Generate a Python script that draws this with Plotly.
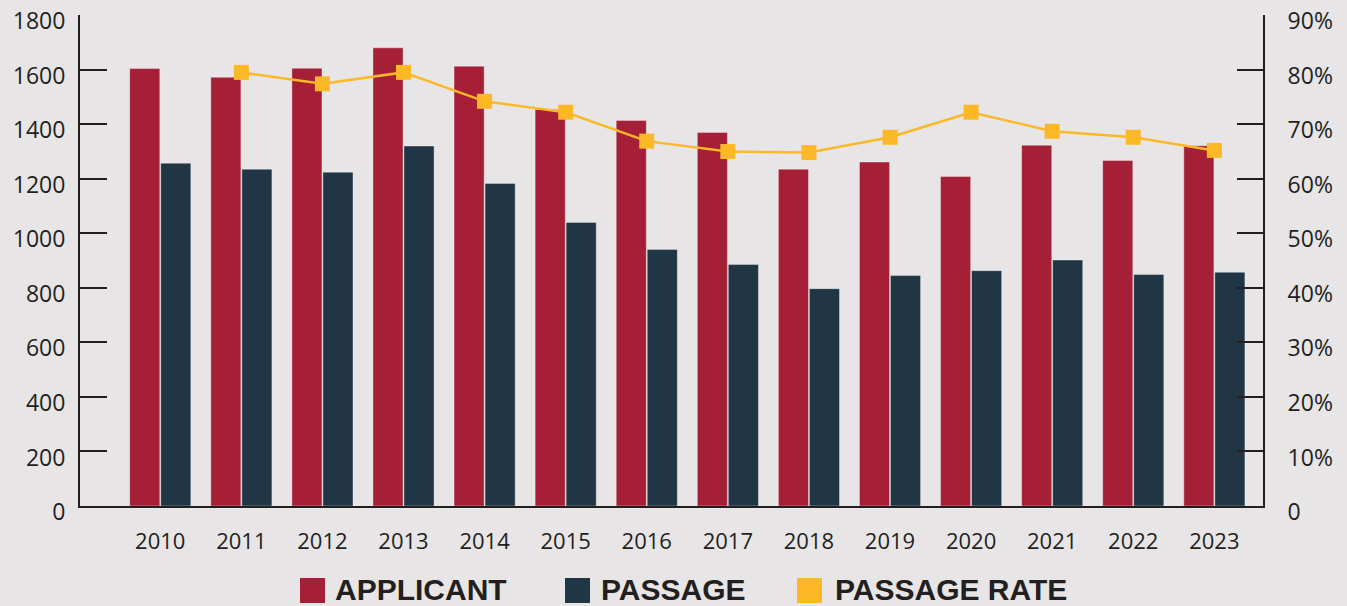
import plotly.graph_objects as go

# ---------------- data ----------------
years = ["2010", "2011", "2012", "2013", "2014", "2015", "2016",
         "2017", "2018", "2019", "2020", "2021", "2022", "2023"]
applicant = [1604, 1572, 1605, 1680, 1613, 1454, 1414,
             1370, 1235, 1261, 1208, 1323, 1267, 1321]
passage = [1257, 1235, 1224, 1320, 1183, 1040, 941,
           886, 797, 845, 863, 902, 849, 857]
rate_years = ["2011", "2012", "2013", "2014", "2015", "2016", "2017",
              "2018", "2019", "2020", "2021", "2022", "2023"]
passage_rate = [79.5, 77.4, 79.5, 74.2, 72.2, 66.9, 65.0,
                64.8, 67.6, 72.2, 68.7, 67.6, 65.2]
left_ticks = [0, 200, 400, 600, 800, 1000, 1200, 1400, 1600, 1800]
right_ticks = [0, 10, 20, 30, 40, 50, 60, 70, 80, 90]
right_text = ["0", "10%", "20%", "30%", "40%", "50%", "60%", "70%", "80%", "90%"]
legend_names = ["APPLICANT", "PASSAGE", "PASSAGE RATE"]

# ---------------- style ----------------
BG = "#E7E5E6"
RED = "#A51F36"
NAVY = "#213645"
GOLD = "#FDB827"
INK = "#231F20"
FONT = "Open Sans"

W, H = 1347, 606
ML, MR, MT, MB = 80, 84, 15, 100

fig = go.Figure()
fig.add_trace(go.Bar(
    x=years, y=applicant, name=legend_names[0],
    marker=dict(color=RED, line=dict(color="rgba(255,255,255,0.35)", width=1)),
))
fig.add_trace(go.Bar(
    x=years, y=passage, name=legend_names[1],
    marker=dict(color=NAVY, line=dict(color="rgba(255,255,255,0.35)", width=1)),
))
fig.add_trace(go.Scatter(
    x=rate_years, y=passage_rate, name=legend_names[2], yaxis="y2",
    mode="lines+markers",
    line=dict(color=GOLD, width=2.5),
    marker=dict(symbol="square", size=15, color=GOLD),
    cliponaxis=False,
))

# ---------------- custom legend (large swatches) ----------------
def px_x(p):
    return (p - ML) / (W - ML - MR)

def px_y(p):
    return (H - MB - p) / (H - MT - MB)

legend_items = [
    (legend_names[0], RED, 300, 333),
    (legend_names[1], NAVY, 565, 599),
    (legend_names[2], GOLD, 797, 833),
]
shapes = []
annotations = []
for name, color, sx, tx in legend_items:
    shapes.append(dict(
        type="rect", xref="paper", yref="paper",
        x0=px_x(sx), x1=px_x(sx + 25), y0=px_y(603), y1=px_y(578),
        fillcolor=color, line=dict(width=0), layer="above",
    ))
    annotations.append(dict(
        xref="paper", yref="paper", x=px_x(tx), y=px_y(589),
        xanchor="left", yanchor="middle", showarrow=False,
        text="<b>%s</b>" % name,
        font=dict(family="Liberation Sans, Arial", size=30, color=INK),
    ))

fig.update_layout(
    width=W, height=H,
    paper_bgcolor=BG, plot_bgcolor=BG,
    margin=dict(l=ML, r=MR, t=MT, b=MB, pad=0, autoexpand=False),
    barmode="group", bargap=0.235, bargroupgap=0.03,
    showlegend=False,
    font=dict(family=FONT, color=INK, size=22),
    xaxis=dict(
        type="category", range=[-0.99, 13.6], automargin=False,
        showline=True, linecolor=INK, linewidth=2,
        ticks="", showgrid=False, zeroline=False,
        tickfont=dict(size=22, color=INK), ticklabelstandoff=15,
    ),
    yaxis=dict(
        range=[0, 1800.5], tickvals=left_ticks, automargin=False,
        showline=True, linecolor=INK, linewidth=2,
        ticks="inside", ticklen=27, tickwidth=2, tickcolor=INK,
        showgrid=False, zeroline=False, ticklabeloverflow="allow",
        ticklabelshift=6,
        tickfont=dict(size=23, color=INK), ticklabelstandoff=8,
    ),
    yaxis2=dict(
        range=[0, 90.025], tickvals=right_ticks, ticktext=right_text,
        overlaying="y", side="right", automargin=False,
        showline=True, linecolor=INK, linewidth=2,
        ticks="inside", ticklen=26, tickwidth=2, tickcolor=INK,
        showgrid=False, zeroline=False, ticklabeloverflow="allow",
        ticklabelshift=6,
        tickfont=dict(size=23, color=INK), ticklabelstandoff=18,
    ),
    shapes=shapes,
    annotations=annotations,
)

fig.write_html(
    "out.html",
    config={"displayModeBar": False},
    post_script=(
        "document.body.style.margin='0';"
        "document.body.style.padding='0';"
        "document.body.style.background='%s';" % BG
    ),
)
